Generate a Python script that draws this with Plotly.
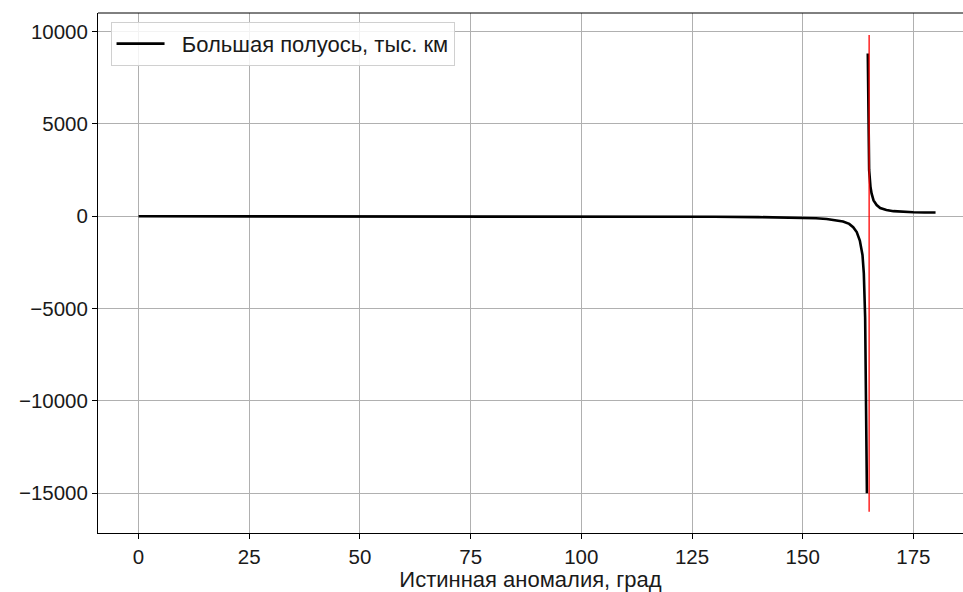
import plotly.graph_objects as go

# True anomaly (deg) and semi-major axis (thousand km)
anomaly_neg = [0, 10, 20, 30, 40, 50, 60, 70, 80, 90, 100, 110, 120, 130, 140,
               145, 150, 153, 155.4, 157, 159.1, 160.5, 161.4, 162.2, 162.9,
               163.5, 163.8, 164.1, 164.3, 164.5]
axis_neg = [-6, -6, -7, -7, -8, -9, -10, -11, -13, -15, -18, -22, -27, -35, -50,
            -62, -85, -110, -150, -195, -290, -420, -600, -860, -1320,
            -2100, -3100, -5500, -9000, -15000]

anomaly_pos = [164.7, 164.8, 165.0, 165.3, 165.55, 166.0, 166.7, 167.5, 168.9,
               170.5, 172.7, 175.0, 177.5, 180.0]
axis_pos = [8800, 5200, 2500, 1600, 1230, 850, 600, 440, 330,
            270, 225, 210, 200, 195]

asym_x = [165, 165]
asym_y = [-16000, 9800]

x_ticks = [0, 25, 50, 75, 100, 125, 150, 175]
y_ticks = [-15000, -10000, -5000, 0, 5000, 10000]
y_tick_text = ["\u221215000", "\u221210000", "\u22125000", "0", "5000", "10000"]

legend_name = "Большая полуось, тыс. км"
x_title = "Истинная аномалия, град"

font = "Liberation Sans, Arial, sans-serif"

fig = go.Figure()
fig.add_trace(go.Scatter(
    x=anomaly_neg + [None] + anomaly_pos,
    y=axis_neg + [None] + axis_pos,
    mode="lines", line=dict(color="black", width=2.6),
    name="\u00a0\u00a0" + legend_name, connectgaps=False, hoverinfo="skip"))
fig.add_trace(go.Scatter(
    x=asym_x, y=asym_y, mode="lines",
    line=dict(color="red", width=1.3), showlegend=False, hoverinfo="skip"))

fig.update_layout(
    width=963, height=592,
    margin=dict(l=98, r=0, t=13, b=59),
    paper_bgcolor="white", plot_bgcolor="white",
    font=dict(family=font, size=20.5, color="#1a1a1a"),
    legend=dict(x=0.0145, y=0.983, xanchor="left", yanchor="top",
                bgcolor="rgba(255,255,255,0.85)", bordercolor="#d0d0d0",
                borderwidth=1, font=dict(size=22, color="#1a1a1a"),
                itemwidth=48),
    shapes=[dict(type="line", xref="paper", yref="paper", x0=0, x1=1, y0=1, y1=1,
                 line=dict(color="black", width=1))],
)
fig.update_xaxes(
    range=[-9.16, 186.2], tickmode="array", tickvals=x_ticks,
    showgrid=True, gridcolor="#b0b0b0", gridwidth=1,
    zeroline=False, showline=True, linecolor="black", linewidth=1,
    ticks="outside", ticklen=5, tickcolor="black",
    title=dict(text=x_title, font=dict(size=22, color="#1a1a1a"), standoff=7))
fig.update_yaxes(
    range=[-17150, 10996], tickmode="array", tickvals=y_ticks, ticktext=y_tick_text,
    showgrid=True, gridcolor="#b0b0b0", gridwidth=1,
    zeroline=False, showline=True, linecolor="black", linewidth=1,
    ticks="outside", ticklen=5, tickcolor="black")

fig.write_html("out.html")
